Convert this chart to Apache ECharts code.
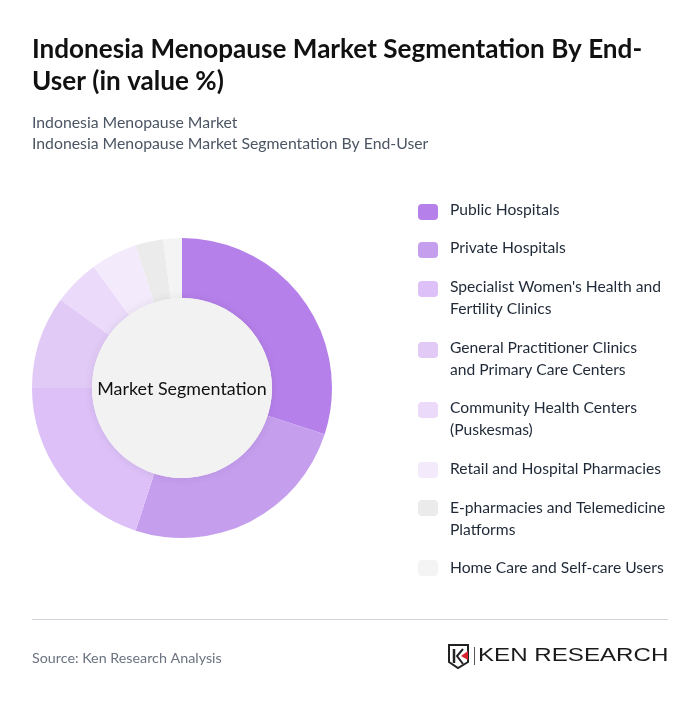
<!DOCTYPE html>
<html>
<head>
<meta charset="UTF-8">
<title>Indonesia Menopause Market Segmentation</title>
<style>
  html, body { margin: 0; padding: 0; background: #fff; }
  #main { width: 700px; height: 704px; }
</style>
</head>
<body>
<div id="main"></div>
<script src="https://cdn.jsdelivr.net/npm/echarts@6/dist/echarts.min.js"></script>
<script>
var categories = [
  'Public Hospitals',
  'Private Hospitals',
  "Specialist Women's Health and\nFertility Clinics",
  'General Practitioner Clinics\nand Primary Care Centers',
  'Community Health Centers\n(Puskesmas)',
  'Retail and Hospital Pharmacies',
  'E-pharmacies and Telemedicine\nPlatforms',
  'Home Care and Self-care Users'
];
var values = [30, 25, 20, 10, 5, 5, 3, 2];
var colors = ['#b580ea', '#c59eee', '#dcc0f7', '#e2caf7', '#ebdafa', '#f3ebfc', '#ebebeb', '#f4f4f4'];
var legendTops = [204, 242, 281, 342, 402, 462, 500, 560];
var legendTextTops = [199, 237, 276, 337, 397, 458, 497, 557];

var FONT = 'Lato';
var graphics = [];

// legend is hand placed because the swatch sits on the first line of wrapped names
categories.forEach(function (name, i) {
  graphics.push({
    type: 'rect', silent: true,
    shape: { x: 418, y: legendTops[i], width: 20, height: 16, r: 4 },
    style: { fill: colors[i] }
  });
  graphics.push({
    type: 'text', silent: true, x: 450, y: legendTextTops[i],
    style: { text: name, font: '15.65px ' + FONT, lineHeight: 22, fill: '#1f2937' }
  });
});

// footer
graphics.push({
  type: 'line', silent: true,
  shape: { x1: 32, y1: 619.5, x2: 668, y2: 619.5 },
  style: { stroke: '#d1d5db', lineWidth: 1 }
});
graphics.push({
  type: 'text', silent: true, x: 32, y: 651,
  style: { text: 'Source: Ken Research Analysis', font: '14.3px ' + FONT, fill: '#6b7280' }
});

// logo
graphics.push({
  type: 'polygon', silent: true,
  shape: { points: [[449, 645], [468, 645], [468, 662], [458, 668], [449, 662]] },
  style: { fill: 'none', stroke: '#222', lineWidth: 2 }
});
graphics.push({
  type: 'polyline', silent: true,
  shape: { points: [[454, 649], [454, 663]] },
  style: { stroke: '#222', lineWidth: 2.5 }
});
graphics.push({
  type: 'polyline', silent: true,
  shape: { points: [[463, 649], [457, 656], [463, 664]] },
  style: { fill: 'none', stroke: '#222', lineWidth: 2 }
});
graphics.push({
  type: 'polygon', silent: true,
  shape: { points: [[468, 651], [468, 660], [461, 656]] },
  style: { fill: '#d9232e' }
});
graphics.push({
  type: 'line', silent: true,
  shape: { x1: 474.5, y1: 647, x2: 474.5, y2: 665 },
  style: { stroke: '#555', lineWidth: 1 }
});
graphics.push({
  type: 'text', silent: true, x: 478, y: 647.5, scaleX: 1.34,
  style: { text: 'KEN RESEARCH', font: '500 18px "Liberation Sans"', fill: '#1a1a1a' }
});

var option = {
  backgroundColor: '#fff',
  animation: false,
  title: [{
    text: 'Indonesia Menopause Market Segmentation By End-\nUser (in value %)',
    left: 27, top: 29,
    textStyle: { fontFamily: FONT, fontSize: 26.1, fontWeight: 'bold', color: '#111', lineHeight: 32 }
  }, {
    text: 'Indonesia Menopause Market\nIndonesia Menopause Market Segmentation By End-User',
    left: 27, top: 107,
    textStyle: { fontFamily: FONT, fontSize: 15.8, fontWeight: 'normal', color: '#4b5563', lineHeight: 21 }
  }],
  series: [{
    type: 'pie',
    center: [182, 388],
    radius: [90, 150],
    startAngle: 90,
    clockwise: true,
    silent: true,
    label: { show: false },
    labelLine: { show: false },
    data: categories.map(function (name, i) {
      return { name: name, value: values[i], itemStyle: { color: colors[i] } };
    })
  }, {
    type: 'pie',
    center: [182, 388],
    radius: [0, 90],
    silent: true,
    z: 5,
    labelLine: { show: false },
    label: {
      show: true, position: 'center',
      fontFamily: FONT, fontSize: 17.9, color: '#111', offset: [0, 1]
    },
    itemStyle: { color: '#f2f2f2', shadowBlur: 10, shadowColor: 'rgba(0,0,0,0.08)' },
    data: [{ name: 'Market Segmentation', value: 1 }]
  }],
  graphic: graphics
};

var myChart = echarts.init(document.getElementById('main'));
myChart.setOption(option);
</script>
</body>
</html>
